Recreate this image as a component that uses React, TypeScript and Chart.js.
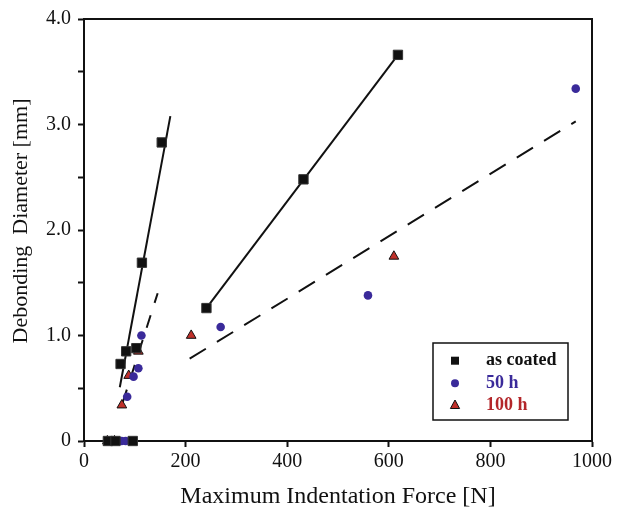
import React, { useEffect, useRef } from 'react';
import { Chart, registerables } from 'chart.js';

Chart.register(...registerables);

const FONT = '"Liberation Serif", "Times New Roman", serif';

const seriesLabels = ['as coated', '50 h', '100 h'];
const seriesTextColors = ['#111111', '#3a2a9a', '#b3262a'];
const yTitleText = 'Debonding  Diameter [mm]';
const xTitleText = 'Maximum Indentation Force [N]';

const asCoatedX = [47, 62, 96, 72, 83, 103, 114, 153, 241, 432, 618];
const asCoatedY = [0, 0, 0, 0.73, 0.85, 0.88, 1.69, 2.83, 1.26, 2.48, 3.66];
const h50X = [74, 82, 85, 97.5, 107, 113, 269, 559, 968];
const h50Y = [0, 0, 0.42, 0.61, 0.69, 1.0, 1.08, 1.38, 3.34];
const h100X = [46, 60, 74.5, 88, 107, 211, 610];
const h100Y = [0, 0, 0.34, 0.62, 0.85, 1.0, 1.75];

const fitSteepSolidX = [70.5, 170];
const fitSteepSolidY = [0.51, 3.08];
const fitRightSolidX = [241, 618];
const fitRightSolidY = [1.26, 3.66];
const fitSteepDashX = [76.5, 145];
const fitSteepDashY = [0.37, 1.4];
const fitLongDashX = [208, 968];
const fitLongDashY = [0.78, 3.03];

const xTickValues = [0, 200, 400, 600, 800, 1000];
const yMajorTicks = [0, 1, 2, 3, 4];

const pts = (xs: number[], ys: number[]) => xs.map((x, i) => ({ x, y: ys[i] }));

const legendPlugin = {
  id: 'boxLegend',
  afterDatasetsDraw(chart: any) {
    const { ctx, chartArea } = chart;
    const w = 135;
    const h = 77;
    const x0 = chartArea.right - 24 - w;
    const y0 = chartArea.bottom - 21 - h;
    ctx.save();
    ctx.fillStyle = '#ffffff';
    ctx.fillRect(x0, y0, w, h);
    ctx.strokeStyle = '#111111';
    ctx.lineWidth = 1.5;
    ctx.strokeRect(x0, y0, w, h);
    const rows = [17.7, 40.3, 62];
    for (let i = 0; i < 3; i++) {
      const cy = y0 + rows[i];
      const cx = x0 + 22;
      ctx.lineWidth = 1;
      ctx.strokeStyle = '#111111';
      if (i === 0) {
        ctx.fillStyle = '#111111';
        ctx.fillRect(cx - 4, cy - 4, 8, 8);
      } else if (i === 1) {
        ctx.fillStyle = '#3a2a9a';
        ctx.beginPath();
        ctx.arc(cx, cy, 4, 0, Math.PI * 2);
        ctx.fill();
      } else {
        ctx.fillStyle = '#c0302a';
        ctx.beginPath();
        ctx.moveTo(cx, cy - 5);
        ctx.lineTo(cx + 4.6, cy + 3.5);
        ctx.lineTo(cx - 4.6, cy + 3.5);
        ctx.closePath();
        ctx.fill();
        ctx.stroke();
      }
      ctx.fillStyle = seriesTextColors[i];
      ctx.font = `bold 18px ${FONT}`;
      ctx.textBaseline = 'middle';
      ctx.textAlign = 'left';
      ctx.fillText(seriesLabels[i], x0 + 53, cy);
    }
    ctx.restore();
  },
};

const framePlugin = {
  id: 'frame',
  beforeDatasetsDraw(chart: any) {
    const { ctx, chartArea } = chart;
    ctx.save();
    ctx.strokeStyle = '#111111';
    ctx.lineWidth = 2;
    ctx.beginPath();
    ctx.moveTo(chartArea.left, chartArea.top);
    ctx.lineTo(chartArea.right, chartArea.top);
    ctx.lineTo(chartArea.right, chartArea.bottom);
    ctx.stroke();
    ctx.restore();
  },
  afterDraw(chart: any) {
    const { ctx, chartArea } = chart;
    ctx.save();
    ctx.translate(21, (chartArea.top + chartArea.bottom) / 2 - 9);
    ctx.rotate(-Math.PI / 2);
    ctx.fillStyle = '#111111';
    ctx.font = `22px ${FONT}`;
    ctx.textAlign = 'center';
    ctx.textBaseline = 'middle';
    ctx.fillText(yTitleText, 0, 0);
    ctx.restore();
  },
};

export default function App() {
  const ref = useRef<HTMLCanvasElement | null>(null);
  useEffect(() => {
    if (!ref.current) return;
    const lineBase = {
      showLine: true,
      pointRadius: 0,
      pointHoverRadius: 0,
      borderColor: '#111111',
      borderWidth: 2,
      fill: false,
      order: 10,
      clip: false as any,
    };
    const chart = new Chart(ref.current, {
      type: 'scatter',
      data: {
        datasets: [
          {
            label: seriesLabels[0],
            data: pts(asCoatedX, asCoatedY),
            pointStyle: 'rect',
            pointRadius: 6.6,
            backgroundColor: '#111111',
            borderColor: '#333333',
            borderWidth: 1,
            order: 1,
            clip: false as any,
          },
          {
            label: seriesLabels[1],
            data: pts(h50X, h50Y),
            pointStyle: 'circle',
            pointRadius: 4.3,
            backgroundColor: '#3a2a9a',
            borderColor: '#3a2a9a',
            borderWidth: 0,
            order: 2,
            clip: false as any,
          },
          {
            label: seriesLabels[2],
            data: pts(h100X, h100Y),
            pointStyle: 'triangle',
            pointRadius: 5.6,
            backgroundColor: '#c0302a',
            borderColor: '#111111',
            borderWidth: 1,
            order: 3,
            clip: false as any,
          },
          { ...lineBase, label: 'fit1', data: pts(fitSteepSolidX, fitSteepSolidY) },
          { ...lineBase, label: 'fit2', data: pts(fitRightSolidX, fitRightSolidY) },
          { ...lineBase, label: 'fit3', data: pts(fitSteepDashX, fitSteepDashY), borderDash: [13, 13] },
          { ...lineBase, label: 'fit4', data: pts(fitLongDashX, fitLongDashY), borderDash: [19, 13] },
        ] as any,
      },
      options: {
        animation: false,
        responsive: true,
        maintainAspectRatio: false,
        layout: { padding: { left: 0, top: 17, right: 27, bottom: 0 } },
        plugins: {
          legend: { display: false },
          tooltip: { enabled: false },
        },
        scales: {
          x: {
            type: 'linear',
            min: 0,
            max: 1000,
            afterFit: (s: any) => {
              s.height = 70;
            },
            afterBuildTicks: (s: any) => {
              s.ticks = xTickValues.map((v) => ({ value: v }));
            },
            ticks: {
              color: '#111111',
              font: { family: FONT, size: 20 },
              padding: 3,
              maxRotation: 0,
              callback: (v: any) => String(v),
            },
            grid: {
              display: true,
              drawOnChartArea: false,
              drawTicks: true,
              tickLength: 6,
              tickColor: '#111111',
              tickWidth: 2,
            },
            border: { display: true, color: '#111111', width: 2 },
            title: {
              display: true,
              text: xTitleText,
              color: '#111111',
              font: { family: FONT, size: 24 },
              padding: { top: 0, bottom: 0 },
            },
          },
          y: {
            type: 'linear',
            min: 0,
            max: 4,
            afterFit: (s: any) => {
              s.width = 84;
            },
            ticks: {
              stepSize: 0.5,
              color: '#111111',
              font: { family: FONT, size: 20 },
              padding: 7,
              callback: (v: any) => {
                const n = Number(v);
                if (n === 0) return '0';
                return yMajorTicks.includes(n) ? n.toFixed(1) : '';
              },
            },
            grid: {
              display: true,
              drawOnChartArea: false,
              drawTicks: true,
              tickLength: 6,
              tickColor: '#111111',
              tickWidth: 2,
            },
            border: { display: true, color: '#111111', width: 2 },
            title: { display: false },
          },
        },
      } as any,
      plugins: [framePlugin, legendPlugin],
    });
    return () => chart.destroy();
  }, []);
  return (
    <div style={{ position: 'fixed', left: 0, top: 0, width: 619, height: 511, background: '#fff' }}>
      <canvas ref={ref} />
    </div>
  );
}
